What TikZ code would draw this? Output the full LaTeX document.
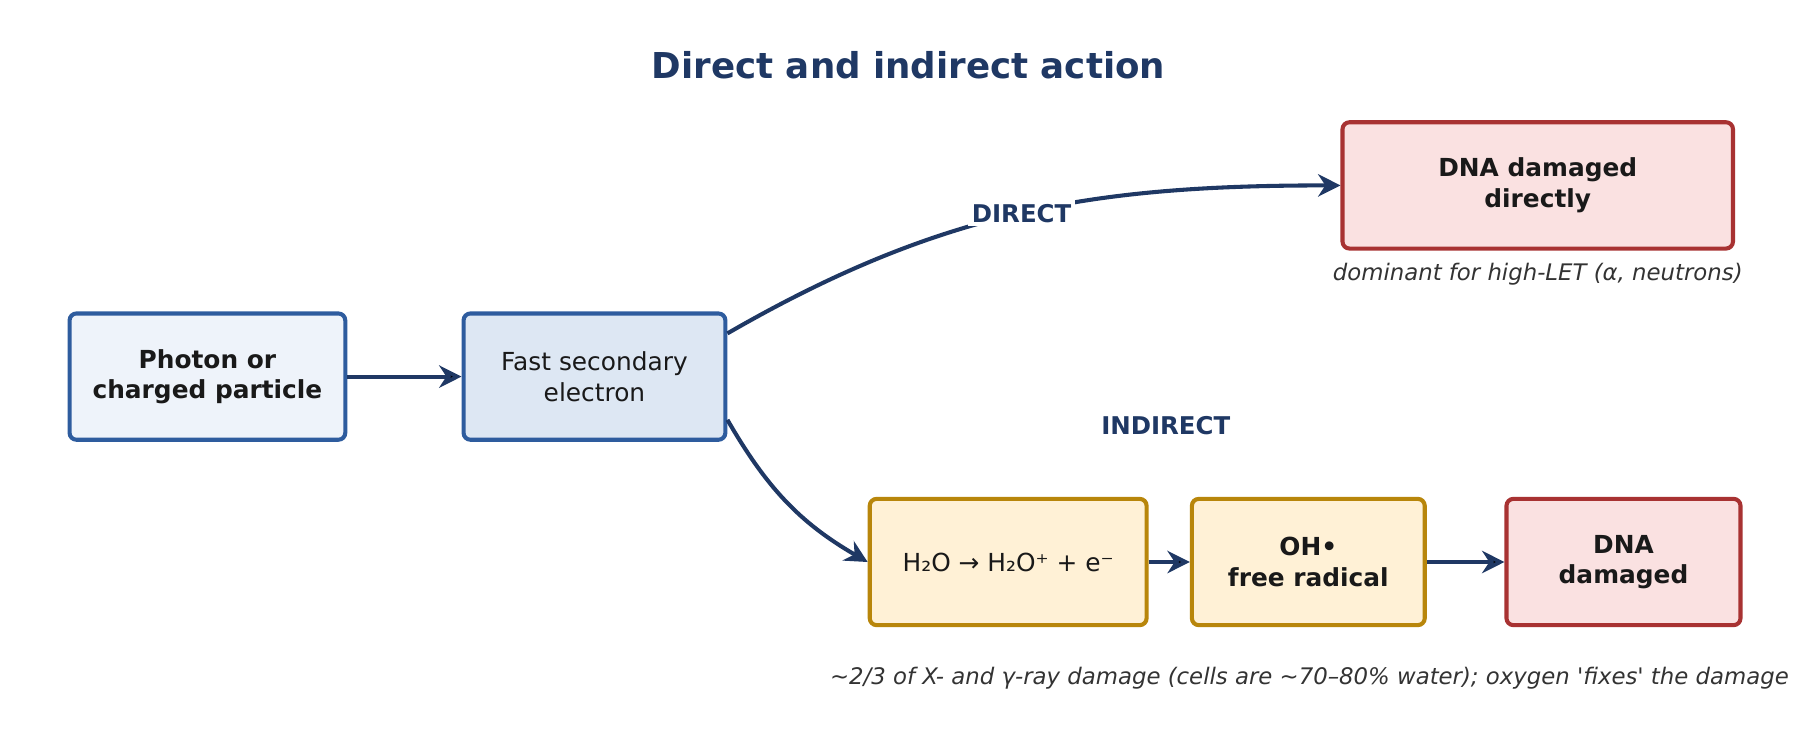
\documentclass[tikz,border=0pt]{standalone}
\usepackage{fontspec}
\setmainfont{DejaVu Sans}
\usetikzlibrary{arrows.meta}
\definecolor{navy}{HTML}{1F3864}
\definecolor{bluebd}{HTML}{2E5C9E}
\definecolor{bluefa}{HTML}{EEF3FA}
\definecolor{bluefb}{HTML}{DDE7F3}
\definecolor{redbd}{HTML}{A83232}
\definecolor{redfl}{HTML}{FAE1E1}
\definecolor{goldbd}{HTML}{B8860B}
\definecolor{goldfl}{HTML}{FFF1D6}
\tikzset{
  box/.style={rectangle,rounded corners=0.12cm,line width=2pt,align=center,
    minimum height=2.18cm,font=\fontsize{12.2}{15.5}\selectfont,text=black!90},
  boldbox/.style={box,font=\fontsize{12.2}{15}\selectfont\bfseries},
  flow/.style={-{Stealth[length=11pt,width=11pt]},line width=2pt,draw=navy},
  lab/.style={font=\fontsize{12}{14}\selectfont\bfseries,text=navy},
  note/.style={font=\fontsize{11.2}{13}\selectfont\itshape,text=black!80}
}
\begin{document}
\begin{tikzpicture}[x=0.02cm,y=-0.02cm]
\useasboundingbox (0,0) rectangle (1568,651);
    \node[font=\fontsize{17.5}{20}\selectfont\bfseries,text=navy] (title) at (784,56) {Direct and indirect action};

    \node[boldbox,draw=bluebd,fill=bluefa,minimum width=4.76cm] (photon) at (179,325) {Photon or\\charged particle};
    \node[box,draw=bluebd,fill=bluefb,minimum width=4.52cm] (fast) at (513,325) {Fast secondary\\electron};
    \node[boldbox,draw=redbd,fill=redfl,minimum width=6.74cm] (direct) at (1327,160) {DNA damaged\\directly};
    \node[box,draw=goldbd,fill=goldfl,minimum width=4.78cm] (water) at (870,485) {H₂O → H₂O⁺ + e⁻};
    \node[boldbox,draw=goldbd,fill=goldfl,minimum width=4.02cm] (oh) at (1129,485) {OH•\\free radical};
    \node[boldbox,draw=redbd,fill=redfl,minimum width=4.04cm] (dna) at (1401,485) {DNA\\damaged};

    \node[note] (highlet) at (1327,237) {dominant for high-LET (α, neutrons)};
    \node[note] (water note) at (1130,585) {\textasciitilde 2/3 of X- and γ-ray damage (cells are \textasciitilde 70–80\% water); oxygen \textquotesingle fixes\textquotesingle\ the damage};

    \path [flow] (photon) edge (fast);
    \draw [flow] (fast.18) to[out=30,in=180] node[pos=0.5,lab,fill=white,inner sep=2pt] {DIRECT} (direct.west);
    \draw [flow] (fast.-18) to[out=-60,in=150] (water.west);
    \node[lab] (indirect) at (1006,367) {INDIRECT};
    \path [flow] (water) edge (oh);
    \path [flow] (oh) edge (dna);
\end{tikzpicture}
\end{document}
